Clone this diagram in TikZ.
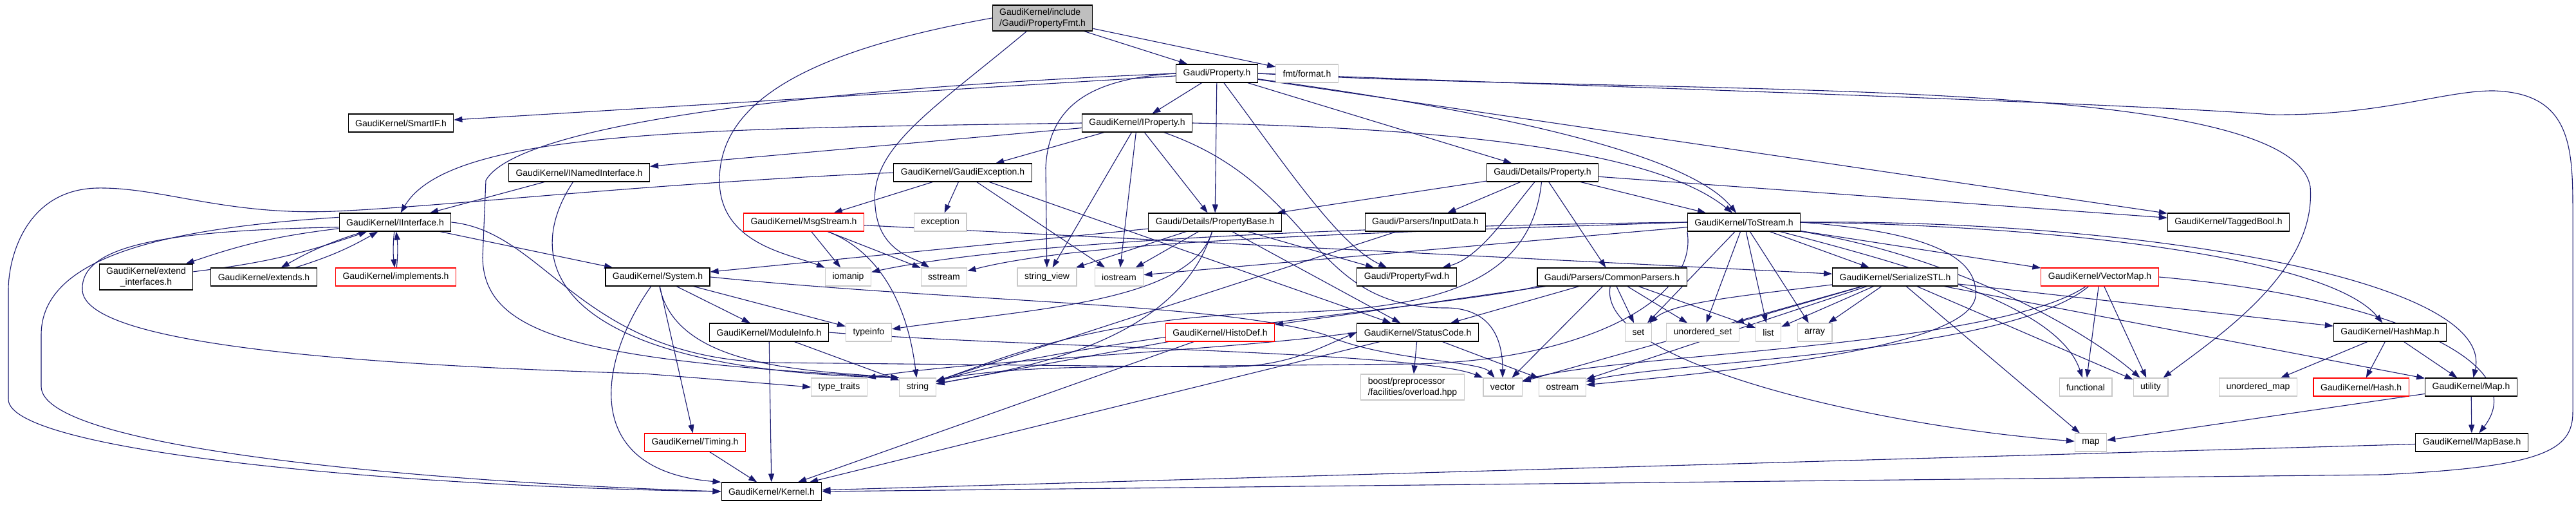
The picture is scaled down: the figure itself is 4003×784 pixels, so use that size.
\documentclass[tikz,border=0pt]{standalone}
\usepackage{fontspec}
\setmainfont{Liberation Sans}
\usepackage{xcolor}
\usepackage{tikz}
\usetikzlibrary{arrows.meta, backgrounds}
\definecolor{edgeblue}{HTML}{191970}
\definecolor{rootgray}{HTML}{BFBFBF}
\definecolor{extgray}{HTML}{C8C8C8}
\definecolor{truncred}{HTML}{FF0000}
\newcommand{\graphfont}{\fontsize{14}{17}\selectfont}
\tikzset{
    class/.style={draw, rectangle, line width=1.1pt, fill=white, minimum height=28pt, inner xsep=11pt, inner ysep=5pt, font=\graphfont},
    root/.style={class, fill=rootgray, align=left},
    trunc/.style={class, draw=truncred},
    ext/.style={class, draw=extgray},
    arrow/.style={draw=edgeblue, line width=1.1pt, -{Triangle[length=13pt,width=9pt]}}
}

\begin{document}
\begin{tikzpicture}[x=1pt, y=-1pt]

\useasboundingbox (0,0) rectangle (4003,784);

\node [root]                  (fmt)        at (1620,28)  {GaudiKernel/include\\/Gaudi/PropertyFmt.h};
\node [class]                 (prop)       at (1891,114) {Gaudi/Property.h};
\node [ext]                   (fmtf)       at (2031,114) {fmt/format.h};
\node [class]                 (smartif)    at (623,191)  {GaudiKernel/SmartIF.h};
\node [class]                 (iprop)      at (1767,191) {GaudiKernel/IProperty.h};
\node [class]                 (inamed)     at (900,268)  {GaudiKernel/INamedInterface.h};
\node [class]                 (gexc)       at (1496,268) {GaudiKernel/GaudiException.h};
\node [class]                 (dprop)      at (2397,268) {Gaudi/Details/Property.h};
\node [class]                 (iint)       at (614,345)  {GaudiKernel/IInterface.h};
\node [trunc]                 (msgs)       at (1249,345) {GaudiKernel/MsgStream.h};
\node [ext]                   (exc)        at (1461,345) {exception};
\node [class]                 (pbase)      at (1888,345) {Gaudi/Details/PropertyBase.h};
\node [class]                 (inputd)     at (2215,345) {Gaudi/Parsers/InputData.h};
\node [class]                 (tostr)      at (2710,345) {GaudiKernel/ToStream.h};
\node [class]                 (tagged)     at (3463,345) {GaudiKernel/TaggedBool.h};
\node [class, align=center]   (extif)      at (227,430)  {GaudiKernel/extend\\\_interfaces.h};
\node [class]                 (extends)    at (410,430)  {GaudiKernel/extends.h};
\node [trunc]                 (impl)       at (615,430)  {GaudiKernel/implements.h};
\node [class]                 (system)     at (1022,430) {GaudiKernel/System.h};
\node [ext]                   (iomanip)    at (1318,430) {iomanip};
\node [ext]                   (sstream)    at (1467,430) {sstream};
\node [ext]                   (sview)      at (1627,430) {string\_view};
\node [ext]                   (iostream)   at (1739,430) {iostream};
\node [class]                 (pfwd)       at (2186,430) {Gaudi/PropertyFwd.h};
\node [class]                 (cparsers)   at (2505,430) {Gaudi/Parsers/CommonParsers.h};
\node [class]                 (serial)     at (2945,430) {GaudiKernel/SerializeSTL.h};
\node [trunc]                 (vmap)       at (3263,430) {GaudiKernel/VectorMap.h};
\node [class]                 (modinfo)    at (1195,516) {GaudiKernel/ModuleInfo.h};
\node [ext]                   (typeinfo)   at (1350,516) {typeinfo};
\node [trunc]                 (histo)      at (1896,516) {GaudiKernel/HistoDef.h};
\node [class]                 (scode)      at (2203,516) {GaudiKernel/StatusCode.h};
\node [ext]                   (sset)       at (2546,516) {set};
\node [ext]                   (uset)       at (2646,516) {unordered\_set};
\node [ext]                   (list)       at (2748,516) {list};
\node [ext]                   (array)      at (2820,516) {array};
\node [class]                 (hashmap)    at (3714,516) {GaudiKernel/HashMap.h};
\node [ext]                   (ttraits)    at (1304,601) {type\_traits};
\node [ext]                   (string)     at (1426,601) {string};
\node [ext, align=left]       (boost)      at (2195,601) {boost/preprocessor\\/facilities/overload.hpp};
\node [ext]                   (vector)     at (2335,601) {vector};
\node [ext]                   (ostream)    at (2428,601) {ostream};
\node [ext]                   (functional) at (3241,601) {functional};
\node [ext]                   (utility)    at (3342,601) {utility};
\node [ext]                   (umap)       at (3509,601) {unordered\_map};
\node [trunc]                 (hash)       at (3669,601) {GaudiKernel/Hash.h};
\node [class]                 (maph)       at (3840,601) {GaudiKernel/Map.h};
\node [trunc]                 (timing)     at (1080,687) {GaudiKernel/Timing.h};
\node [ext]                   (map)        at (3249,687) {map};
\node [class]                 (mapbase)    at (3841,687) {GaudiKernel/MapBase.h};
\node [class]                 (kernel)     at (1199,763) {GaudiKernel/Kernel.h};

\begin{scope}[on background layer]
\draw [arrow] (fmt) to (prop);
\draw [arrow] (fmt) to (fmtf);
\draw [arrow] (fmt.west) .. controls (1250,80) and (1118,160) .. (1118,280) .. controls (1118,380) and (1230,395) .. (iomanip);
\draw [arrow] (fmt) .. controls (1450,170) and (1350,230) .. (1360,320) .. controls (1365,390) and (1420,400) .. (sstream);

\draw [arrow] (prop) to (smartif);
\draw [arrow] (prop) to (iprop);
\draw [arrow] (prop) to (pbase);
\draw [arrow] (prop) to (dprop);
\draw [arrow] (prop) .. controls (2450,190) and (2640,260) .. (tostr);
\draw [arrow] (prop) to (tagged);
\draw [arrow] (prop) .. controls (2000,260) and (2080,380) .. (pfwd);
\draw [arrow] (prop.west) .. controls (1700,122) and (1630,160) .. (1625,260) -- (sview);
\draw [arrow] (prop.west) .. controls (1200,140) and (800,200) .. (755,280) -- (750,400) .. controls (752,520) and (900,560) .. (string.north west);
\draw [arrow] (prop.east) .. controls (2600,150) and (3560,110) .. (3590,290) .. controls (3600,420) and (3450,520) .. (utility);
\draw [arrow] (prop.east) .. controls (2500,135) and (3300,160) .. (3530,178) .. controls (3700,180) and (3800,140) .. (3876,141) .. controls (3990,145) and (3998,220) .. (3998,320) -- (3998,640) .. controls (3998,700) and (3950,725) .. (3700,737) -- (kernel.east);

\draw [arrow] (iprop) to (inamed);
\draw [arrow] (iprop.west) .. controls (1100,200) and (700,200) .. (iint);
\draw [arrow] (iprop) to (gexc);
\draw [arrow] (iprop) to (pbase);
\draw [arrow] (iprop.east) .. controls (2300,200) and (2580,240) .. (tostr);
\draw [arrow] (iprop) to (sview);
\draw [arrow] (iprop) to (iostream);
\draw [arrow] (iprop) .. controls (2050,290) and (2030,480) .. (2250,478) .. controls (2320,480) and (2335,530) .. (vector);

\draw [arrow] (inamed) to (iint);
\draw [arrow] (inamed) .. controls (800,420) and (880,575) .. (string.north west);

\draw [arrow] (iint) to [bend right=6] (extif);
\draw [arrow] (extif) to [bend right=6] (iint);
\draw [arrow] (iint) to [bend right=6] (extends);
\draw [arrow] (extends) to [bend right=6] (iint);
\draw [arrow] (iint) to [bend right=6] (impl);
\draw [arrow] (impl) to [bend right=6] (iint);
\draw [arrow] (iint) to (system);
\draw [arrow] (iint.175) .. controls (250,355) and (64,400) .. (64,520) -- (64,600) .. controls (64,700) and (700,750) .. (kernel.west);
\draw [arrow] (iint.185) .. controls (260,358) and (125,380) .. (128,450) .. controls (130,530) and (500,565) .. (1000,580) -- (ttraits.west);
\draw [arrow] (iint.east) .. controls (850,360) and (900,555) .. (1200,563) -- (1900,570) .. controls (2000,570) and (2050,540) .. (scode.west);

\draw [arrow] (gexc) to (msgs);
\draw [arrow] (gexc) to (exc);
\draw [arrow] (gexc) to (scode);
\draw [arrow] (gexc) to (iostream);
\draw [arrow] (gexc.west) .. controls (1000,285) and (700,320) .. (520,328) .. controls (350,335) and (250,290) .. (150,292) .. controls (40,295) and (13,400) .. (13,450) -- (13,620) .. controls (13,700) and (600,755) .. (kernel.west);

\draw [arrow] (msgs) to (iomanip);
\draw [arrow] (msgs) to (sstream);
\draw [arrow] (msgs) .. controls (1365,390) and (1410,470) .. (string);
\draw [arrow] (msgs) to (serial);

\draw [arrow] (pbase) to (system);
\draw [arrow] (pbase) to (iostream);
\draw [arrow] (pbase) to (sview);
\draw [arrow] (pbase) .. controls (1850,470) and (1600,480) .. (typeinfo);
\draw [arrow] (pbase) .. controls (1830,530) and (1600,570) .. (string);
\draw [arrow] (pbase) to (scode);
\draw [arrow] (pbase) to (pfwd);

\draw [arrow] (dprop) to (pbase);
\draw [arrow] (dprop) to (inputd);
\draw [arrow] (dprop) to (tostr);
\draw [arrow] (dprop) to (cparsers);
\draw [arrow] (dprop) .. controls (2345,330) and (2300,400) .. (pfwd);
\draw [arrow] (dprop) .. controls (2380,430) and (2250,480) .. (2000,485) .. controls (1700,490) and (1550,560) .. (string);
\draw [arrow] (dprop) to (tagged);

\draw [arrow] (inputd) to (string);

\draw [arrow] (tostr) to (serial);
\draw [arrow] (tostr) to (sset);
\draw [arrow] (tostr) to (uset);
\draw [arrow] (tostr) to (list);
\draw [arrow] (tostr) to (array);
\draw [arrow] (tostr) to (vmap);
\draw [arrow] (tostr.east) .. controls (3200,350) and (3620,400) .. (hashmap);
\draw [arrow] (tostr.east) .. controls (3300,340) and (3880,430) .. (maph);
\draw [arrow] (tostr) .. controls (3050,400) and (3250,520) .. (utility);
\draw [arrow] (tostr) .. controls (3000,420) and (3200,480) .. (functional);
\draw [arrow] (tostr.east) .. controls (3000,360) and (3075,400) .. (3070,460) .. controls (3060,540) and (2700,575) .. (ostream);
\draw [arrow] (tostr) to (iostream);
\draw [arrow] (tostr.west) .. controls (2200,360) and (1700,370) .. (sstream);
\draw [arrow] (tostr.west) .. controls (2200,350) and (1600,370) .. (iomanip);
\draw [arrow] (tostr.south west) .. controls (2640,470) and (2450,560) .. (2200,565) -- (1700,570) .. controls (1550,572) and (1480,585) .. (string);

\draw [arrow] (cparsers) to (histo);
\draw [arrow] (cparsers) to (scode);
\draw [arrow] (cparsers) to (vector);
\draw [arrow] (cparsers) to (sset);
\draw [arrow] (cparsers) to (uset);
\draw [arrow] (cparsers) to (list);
\draw [arrow] (cparsers) .. controls (2480,560) and (2900,660) .. (map);
\draw [arrow] (cparsers.south west) .. controls (2300,470) and (1700,520) .. (string);

\draw [arrow] (serial) .. controls (2700,460) and (2600,470) .. (sset);
\draw [arrow] (serial) to (uset);
\draw [arrow] (serial) to (list);
\draw [arrow] (serial) to (array);
\draw [arrow] (serial) to (vector);
\draw [arrow] (serial) to (ostream);
\draw [arrow] (serial) to (map);
\draw [arrow] (serial) to (utility);
\draw [arrow] (serial) to (hashmap);
\draw [arrow] (serial) to (maph);

\draw [arrow] (vmap) to (functional);
\draw [arrow] (vmap) to (utility);
\draw [arrow] (vmap.east) .. controls (3700,460) and (3940,560) .. (mapbase);
\draw [arrow] (vmap) .. controls (3100,540) and (2500,550) .. (vector);
\draw [arrow] (vmap) .. controls (3120,550) and (2600,560) .. (ostream);

\draw [arrow] (hashmap) to (umap);
\draw [arrow] (hashmap) to (hash);
\draw [arrow] (hashmap) to (maph);
\draw [arrow] (maph) to (map);
\draw [arrow] (maph) to (mapbase);
\draw [arrow] (mapbase) to (kernel);

\draw [arrow] (histo) to (kernel);
\draw [arrow] (histo) to (string);

\draw [arrow] (scode) to (boost);
\draw [arrow] (scode) to (ostream);
\draw [arrow] (scode) to (kernel);
\draw [arrow] (scode.west) .. controls (1900,545) and (1500,560) .. (ttraits.north east);

\draw [arrow] (system) to (modinfo);
\draw [arrow] (system) to (typeinfo);
\draw [arrow] (system) to (timing);
\draw [arrow] (system.east) .. controls (1500,470) and (1900,470) .. (2060,520) .. controls (2150,560) and (2300,560) .. (vector);
\draw [arrow] (system) .. controls (1050,570) and (1250,575) .. (string.north west);
\draw [arrow] (system) .. controls (930,560) and (900,730) .. (kernel.north west);

\draw [arrow] (modinfo) to (kernel);
\draw [arrow] (modinfo) to (string);
\draw [arrow] (modinfo.east) .. controls (1600,540) and (2200,545) .. (vector.north west);
\draw [arrow] (timing) to (kernel);
\end{scope}

\end{tikzpicture}
\end{document}
